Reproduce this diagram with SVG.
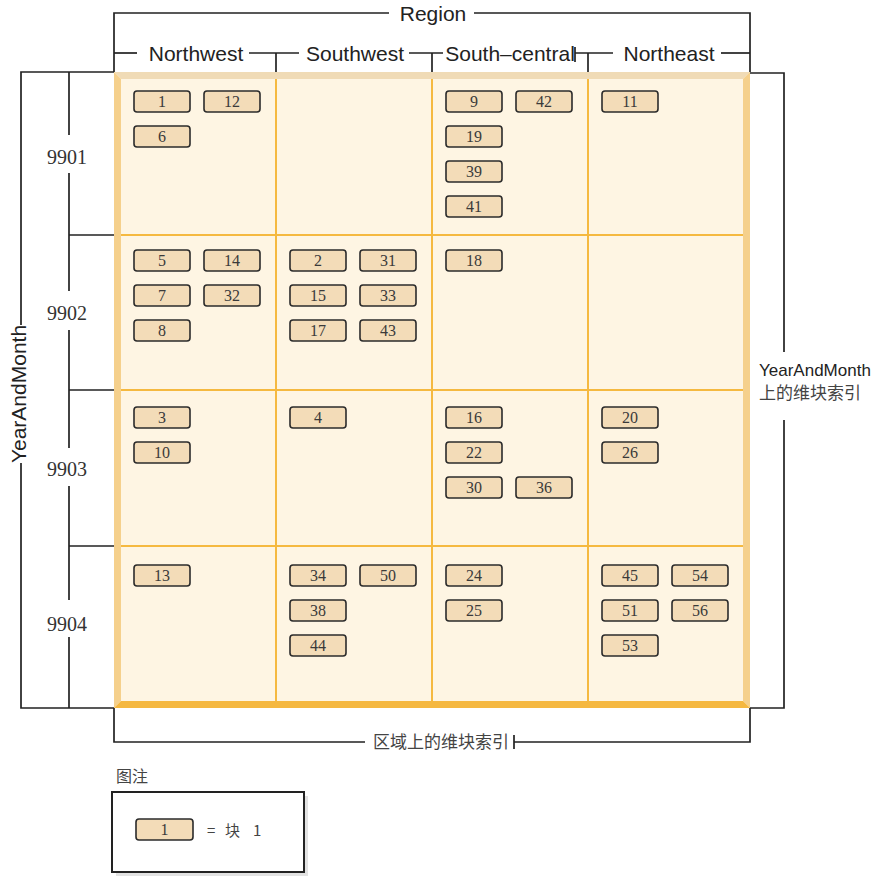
<svg xmlns="http://www.w3.org/2000/svg" width="884" height="876" viewBox="0 0 884 876">
<defs>
<style>
.ln{stroke:#222;stroke-width:1.7;fill:none}
.hd{font-family:"Liberation Sans",Arial,sans-serif;font-size:21px;fill:#222}
.rl{font-family:"Liberation Sans",Arial,sans-serif;font-size:17px;fill:#222}
.cjk{font-family:"Noto Sans CJK SC","Liberation Sans",sans-serif;fill:#444}
.ym{font-family:"Liberation Serif","Times New Roman",serif;font-size:20px;fill:#333;text-anchor:middle}
.blk rect{fill:#f3dcb8;stroke:#2b2b2b;stroke-width:1.6}
.blk text{font-family:"Liberation Serif","Times New Roman",serif;font-size:16px;fill:#3a3a3a;text-anchor:middle}
.div{stroke:#f5b940;stroke-width:2}
</style>
</defs>
<rect width="884" height="876" fill="#fff"/>

<g id="grid">
<rect x="114" y="72" width="636" height="636" fill="#fef5e3"/>
<polygon points="114,72 750,72 743,79 121,79" fill="#f0dbb6"/>
<polygon points="114,72 121,79 121,701 114,708" fill="#f5d08c"/>
<polygon points="750,72 750,708 743,701 743,79" fill="#f5d08c"/>
<polygon points="114,708 121,701 743,701 750,708" fill="#f5b840"/>
<line class="div" x1="276" y1="79" x2="276" y2="701"/>
<line class="div" x1="432" y1="79" x2="432" y2="701"/>
<line class="div" x1="588" y1="79" x2="588" y2="701"/>
<line class="div" x1="121" y1="235" x2="743" y2="235"/>
<line class="div" x1="121" y1="390" x2="743" y2="390"/>
<line class="div" x1="121" y1="546" x2="743" y2="546"/>
</g>

<g id="connectors">
<polyline class="ln" points="114,72 114,13 389,13"/>
<polyline class="ln" points="474,13 750,13 750,72"/>
<line class="ln" x1="114" y1="53" x2="137" y2="53"/>
<line class="ln" x1="249" y1="53" x2="299" y2="53"/>
<line class="ln" x1="276" y1="53" x2="276" y2="72"/>
<line class="ln" x1="409" y1="53" x2="443" y2="53"/>
<line class="ln" x1="432" y1="53" x2="432" y2="72"/>
<line class="ln" x1="575" y1="47" x2="575" y2="62"/>
<line class="ln" x1="575" y1="53" x2="613" y2="53"/>
<line class="ln" x1="588" y1="53" x2="588" y2="72"/>
<line class="ln" x1="721" y1="53" x2="750" y2="53"/>
<polyline class="ln" points="114,72 21,72 21,325"/>
<polyline class="ln" points="21,463 21,708 114,708"/>
<line class="ln" x1="69" y1="72" x2="69" y2="135"/>
<line class="ln" x1="69" y1="173" x2="69" y2="291"/>
<line class="ln" x1="69" y1="330" x2="69" y2="448"/>
<line class="ln" x1="69" y1="486" x2="69" y2="600"/>
<line class="ln" x1="69" y1="637" x2="69" y2="708"/>
<line class="ln" x1="69" y1="235" x2="114" y2="235"/>
<line class="ln" x1="69" y1="390" x2="114" y2="390"/>
<line class="ln" x1="69" y1="546" x2="114" y2="546"/>
<polyline class="ln" points="750,73 784,73 784,352"/>
<polyline class="ln" points="784,420 784,708 750,708"/>
<polyline class="ln" points="365,742 114,742 114,708"/>
<polyline class="ln" points="514,742 750,742 750,708"/>
<line class="ln" x1="514" y1="735" x2="514" y2="749"/>
</g>

<g id="labels">
<text class="hd" x="433" y="21" text-anchor="middle">Region</text>
<text class="hd" x="196" y="61" text-anchor="middle">Northwest</text>
<text class="hd" x="355" y="61" text-anchor="middle">Southwest</text>
<text class="hd" x="510" y="61" text-anchor="middle">South–central</text>
<text class="hd" x="669" y="61" text-anchor="middle">Northeast</text>
<text class="hd" transform="translate(26,394) rotate(-90)" text-anchor="middle">YearAndMonth</text>
<text class="ym" x="67" y="164">9901</text>
<text class="ym" x="67" y="320">9902</text>
<text class="ym" x="67" y="476">9903</text>
<text class="ym" x="67" y="631">9904</text>
<text class="rl" x="759" y="376">YearAndMonth</text>
<text class="cjk" x="759" y="399" font-size="17">上的维块索引</text>
<text class="cjk" x="373" y="748" font-size="17">区域上的维块索引</text>
</g>

<g id="blocks">
<g id="blk1" class="blk"><rect x="134" y="91" width="56" height="21" rx="3"/><text x="162" y="107">1</text></g>
<g id="blk12" class="blk"><rect x="204" y="91" width="56" height="21" rx="3"/><text x="232" y="107">12</text></g>
<g id="blk6" class="blk"><rect x="134" y="126" width="56" height="21" rx="3"/><text x="162" y="142">6</text></g>
<g id="blk9" class="blk"><rect x="446" y="91" width="56" height="21" rx="3"/><text x="474" y="107">9</text></g>
<g id="blk42" class="blk"><rect x="516" y="91" width="56" height="21" rx="3"/><text x="544" y="107">42</text></g>
<g id="blk19" class="blk"><rect x="446" y="126" width="56" height="21" rx="3"/><text x="474" y="142">19</text></g>
<g id="blk39" class="blk"><rect x="446" y="161" width="56" height="21" rx="3"/><text x="474" y="177">39</text></g>
<g id="blk41" class="blk"><rect x="446" y="196" width="56" height="21" rx="3"/><text x="474" y="212">41</text></g>
<g id="blk11" class="blk"><rect x="602" y="91" width="56" height="21" rx="3"/><text x="630" y="107">11</text></g>

<g id="blk5" class="blk"><rect x="134" y="250" width="56" height="21" rx="3"/><text x="162" y="266">5</text></g>
<g id="blk14" class="blk"><rect x="204" y="250" width="56" height="21" rx="3"/><text x="232" y="266">14</text></g>
<g id="blk7" class="blk"><rect x="134" y="285" width="56" height="21" rx="3"/><text x="162" y="301">7</text></g>
<g id="blk32" class="blk"><rect x="204" y="285" width="56" height="21" rx="3"/><text x="232" y="301">32</text></g>
<g id="blk8" class="blk"><rect x="134" y="320" width="56" height="21" rx="3"/><text x="162" y="336">8</text></g>
<g id="blk2" class="blk"><rect x="290" y="250" width="56" height="21" rx="3"/><text x="318" y="266">2</text></g>
<g id="blk31" class="blk"><rect x="360" y="250" width="56" height="21" rx="3"/><text x="388" y="266">31</text></g>
<g id="blk15" class="blk"><rect x="290" y="285" width="56" height="21" rx="3"/><text x="318" y="301">15</text></g>
<g id="blk33" class="blk"><rect x="360" y="285" width="56" height="21" rx="3"/><text x="388" y="301">33</text></g>
<g id="blk17" class="blk"><rect x="290" y="320" width="56" height="21" rx="3"/><text x="318" y="336">17</text></g>
<g id="blk43" class="blk"><rect x="360" y="320" width="56" height="21" rx="3"/><text x="388" y="336">43</text></g>
<g id="blk18" class="blk"><rect x="446" y="250" width="56" height="21" rx="3"/><text x="474" y="266">18</text></g>

<g id="blk3" class="blk"><rect x="134" y="407" width="56" height="21" rx="3"/><text x="162" y="423">3</text></g>
<g id="blk10" class="blk"><rect x="134" y="442" width="56" height="21" rx="3"/><text x="162" y="458">10</text></g>
<g id="blk4" class="blk"><rect x="290" y="407" width="56" height="21" rx="3"/><text x="318" y="423">4</text></g>
<g id="blk16" class="blk"><rect x="446" y="407" width="56" height="21" rx="3"/><text x="474" y="423">16</text></g>
<g id="blk22" class="blk"><rect x="446" y="442" width="56" height="21" rx="3"/><text x="474" y="458">22</text></g>
<g id="blk30" class="blk"><rect x="446" y="477" width="56" height="21" rx="3"/><text x="474" y="493">30</text></g>
<g id="blk36" class="blk"><rect x="516" y="477" width="56" height="21" rx="3"/><text x="544" y="493">36</text></g>
<g id="blk20" class="blk"><rect x="602" y="407" width="56" height="21" rx="3"/><text x="630" y="423">20</text></g>
<g id="blk26" class="blk"><rect x="602" y="442" width="56" height="21" rx="3"/><text x="630" y="458">26</text></g>

<g id="blk13" class="blk"><rect x="134" y="565" width="56" height="21" rx="3"/><text x="162" y="581">13</text></g>
<g id="blk34" class="blk"><rect x="290" y="565" width="56" height="21" rx="3"/><text x="318" y="581">34</text></g>
<g id="blk50" class="blk"><rect x="360" y="565" width="56" height="21" rx="3"/><text x="388" y="581">50</text></g>
<g id="blk38" class="blk"><rect x="290" y="600" width="56" height="21" rx="3"/><text x="318" y="616">38</text></g>
<g id="blk44" class="blk"><rect x="290" y="635" width="56" height="21" rx="3"/><text x="318" y="651">44</text></g>
<g id="blk24" class="blk"><rect x="446" y="565" width="56" height="21" rx="3"/><text x="474" y="581">24</text></g>
<g id="blk25" class="blk"><rect x="446" y="600" width="56" height="21" rx="3"/><text x="474" y="616">25</text></g>
<g id="blk45" class="blk"><rect x="602" y="565" width="56" height="21" rx="3"/><text x="630" y="581">45</text></g>
<g id="blk54" class="blk"><rect x="672" y="565" width="56" height="21" rx="3"/><text x="700" y="581">54</text></g>
<g id="blk51" class="blk"><rect x="602" y="600" width="56" height="21" rx="3"/><text x="630" y="616">51</text></g>
<g id="blk56" class="blk"><rect x="672" y="600" width="56" height="21" rx="3"/><text x="700" y="616">56</text></g>
<g id="blk53" class="blk"><rect x="602" y="635" width="56" height="21" rx="3"/><text x="630" y="651">53</text></g>
</g>

<g id="legend">
<text class="cjk" x="116" y="782" font-size="16">图注</text>
<rect x="116" y="796" width="192" height="80" fill="#e2e2e2"/>
<rect x="112" y="792" width="192" height="80" fill="#fff" stroke="#222" stroke-width="2"/>
<g id="legend-blk" class="blk"><rect x="136" y="819" width="57" height="21" rx="3"/><text x="164.5" y="835">1</text></g>
<text class="cjk" x="207" y="836" font-size="15">=</text>
<text class="cjk" x="225" y="836" font-size="15">块</text>
<text class="cjk" x="253" y="836" font-size="15">1</text>
</g>
</svg>
